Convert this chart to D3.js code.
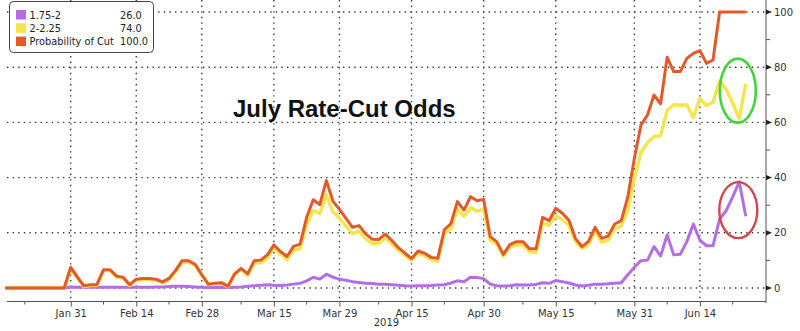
<!DOCTYPE html>
<html>
<head>
<meta charset="utf-8">
<script src="https://cdn.jsdelivr.net/npm/d3@7"></script>
<style>
  html, body { margin: 0; padding: 0; background: #fff; }
  svg { display: block; }
</style>
</head>
<body>
<svg id="chart" width="800" height="331"></svg>
<script>
// Trading days from 2019-01-17 to 2019-06-25 (weekdays)
const startDay = "2019-01-17";
const endDay = "2019-06-25";

// Fed funds target range odds for the July meeting, % per trading day
const range175to2 = [
  0, 0, 0, 0, 0, 0, 0, 0, 0, 0,
  0.4, 0.3, 0.3, 0.3, 0.3, 0.3, 0.3, 0.3, 0.3, 0.3,
  0.3, 0.3, 0.3, 0.4, 0.4, 0.5, 0.6, 0.6, 0.5, 0.4,
  0.3, 0.2, 0.2, 0.2, 0.2, 0.3, 0.4, 0.6, 0.8, 1.0,
  1.2, 1.0, 0.9, 1.1, 1.4, 1.7, 2.6, 3.9, 3.2, 5.0,
  3.9, 3.2, 2.8, 2.3, 2.0, 1.7, 1.6, 1.4, 1.4, 1.2,
  1.0, 0.8, 0.7, 0.8, 0.8, 0.9, 1.1, 1.2, 1.8, 2.6,
  2.3, 3.9, 3.8, 3.4, 1.4, 0.8, 0.7, 0.8, 1.2, 1.1,
  1.1, 1.3, 1.9, 1.7, 2.7, 2.3, 1.8, 1.1, 0.7, 1.0,
  1.4, 1.4, 1.5, 1.7, 1.9, 4.8, 7.5, 9.9, 10.1, 15.0,
  11.6, 19.2, 12.0, 12.2, 16.8, 23.2, 17.3, 15.3, 15.3, 25.0,
  28.0, 33.0, 38.5, 26.0
];
const range2to225 = [
  0, 0, 0, 0, 0, 0, 0, 0, 0, 0,
  7.1, 3.7, 0.5, 0.9, 1.0, 6.3, 6.3, 4.0, 3.6, 0.9,
  2.9, 3.1, 3.1, 2.8, 1.8, 3.0, 5.8, 9.3, 9.4, 8.1,
  4.5, 1.2, 1.5, 1.7, 0.5, 4.8, 6.7, 4.5, 9.1, 9.1,
  10.8, 14.6, 12.3, 10.3, 13.7, 14.2, 23.0, 28.1, 27.0, 33.9,
  27.6, 25.3, 22.4, 19.7, 20.6, 17.9, 16.1, 16.2, 18.1, 16.0,
  13.6, 11.8, 10.0, 12.6, 11.8, 10.2, 9.7, 19.9, 21.5, 28.7,
  25.9, 29.2, 27.8, 28.7, 17.2, 16.0, 11.5, 14.9, 15.6, 15.7,
  13.1, 12.9, 23.7, 22.7, 26.2, 24.8, 22.8, 16.9, 14.3, 15.9,
  20.6, 16.6, 17.3, 21.5, 22.5, 28.2, 39.5, 49.1, 52.6, 54.9,
  55.1, 64.4, 66.4, 66.2, 66.4, 61.8, 68.7, 66.1, 67.3, 75.0,
  72.0, 67.0, 61.5, 74.0
];
const probabilityOfCut = [
  0, 0, 0, 0, 0, 0, 0, 0, 0, 0,
  7.5, 4.0, 0.8, 1.2, 1.3, 6.6, 6.6, 4.3, 3.9, 1.2,
  3.2, 3.4, 3.4, 3.2, 2.2, 3.5, 6.4, 9.9, 9.9, 8.5,
  4.8, 1.4, 1.7, 1.9, 0.7, 5.1, 7.1, 5.1, 9.9, 10.1,
  12.0, 15.6, 13.2, 11.4, 15.1, 15.9, 25.6, 32.0, 30.2, 38.9,
  31.5, 28.5, 25.2, 22.0, 22.6, 19.6, 17.7, 17.6, 19.5, 17.2,
  14.6, 12.6, 10.7, 13.4, 12.6, 11.1, 10.8, 21.1, 23.3, 31.3,
  28.2, 33.1, 31.6, 32.1, 18.6, 16.8, 12.2, 15.7, 16.8, 16.8,
  14.2, 14.2, 25.6, 24.4, 28.9, 27.1, 24.6, 18.0, 15.0, 16.9,
  22.0, 18.0, 18.8, 23.2, 24.4, 33.0, 47.0, 59.0, 62.7, 69.9,
  66.7, 83.6, 78.4, 78.4, 83.2, 85.0, 86.0, 81.4, 82.6, 100,
  100, 100, 100, 100
];

const seriesNames = ["1.75-2", "2-2.25", "Probability of Cut"];
const seriesColors = ["#b36ee3", "#f3e64a", "#e3592b"];

const majorTickDays = ["2019-01-31", "2019-02-14", "2019-02-28", "2019-03-15", "2019-03-29",
                       "2019-04-15", "2019-04-30", "2019-05-15", "2019-05-31", "2019-06-14"];
const minorTickDays = ["2019-01-22", "2019-02-07", "2019-02-21", "2019-03-08", "2019-03-22",
                       "2019-04-08", "2019-04-22", "2019-05-08", "2019-05-23", "2019-06-07", "2019-06-21"];
const yMajorTicks = [0, 20, 40, 60, 80, 100];
const yMinorTicks = [10, 30, 50, 70, 90];
const yearLabel = "2019";
const titleText = "July Rate-Cut Odds";

const parse = d3.utcParse("%Y-%m-%d");
const fmtKey = d3.utcFormat("%Y-%m-%d");
const days = d3.utcDay.range(parse(startDay), d3.utcDay.offset(parse(endDay), 1))
  .filter(d => d.getUTCDay() !== 0 && d.getUTCDay() !== 6)
  .map(fmtKey);

const svg = d3.select("#chart");
const plot = { left: 7, right: 766, top: 0, bottom: 301.5 };

const x = d3.scalePoint().domain(days).range([5.2, 745.8]);
const y = d3.scaleLinear().domain([0, 100]).range([288, 12]);

const font = "'DejaVu Sans', Verdana, sans-serif";

// dotted grid
const grid = svg.append("g").attr("stroke", "#3a3a3a").attr("stroke-width", 1.4)
  .attr("stroke-dasharray", "1.4,4.2");
grid.selectAll("line.h").data(yMajorTicks).join("line")
  .attr("x1", plot.left).attr("x2", plot.right)
  .attr("y1", d => y(d)).attr("y2", d => y(d));
grid.selectAll("line.v").data(majorTickDays).join("line")
  .attr("x1", d => x(d)).attr("x2", d => x(d))
  .attr("y1", 0).attr("y2", plot.bottom);

// series lines: drawn so the total sits on top
const line = d3.line().x((d, i) => x(days[i])).y(d => y(d)).curve(d3.curveLinear);
const series = [range175to2, range2to225, probabilityOfCut];
series.forEach((s, k) => {
  svg.append("path").datum(s)
    .attr("fill", "none")
    .attr("stroke", seriesColors[k])
    .attr("stroke-width", k === 1 ? 3.4 : 3)
    .attr("stroke-linejoin", "round")
    .attr("stroke-linecap", "butt")
    .attr("d", line);
});

// bottom axis
const xAxis = d3.axisBottom(x).tickValues(majorTickDays)
  .tickFormat(d => d3.utcFormat("%b %d")(parse(d))).tickSize(5).tickPadding(3);
const gx = svg.append("g").attr("transform", `translate(0,${plot.bottom})`).call(xAxis);
gx.select(".domain").remove();
gx.append("line").attr("x1", plot.left).attr("x2", plot.right).attr("stroke", "#555").attr("stroke-width", 1);
gx.selectAll(".tick line").attr("stroke", "#555");
gx.selectAll(".tick text").attr("fill", "#333").style("font-family", font).style("font-size", "10px");
gx.selectAll("line.minor").data(minorTickDays).join("line").attr("class", "minor")
  .attr("x1", d => x(d)).attr("x2", d => x(d)).attr("y1", 0).attr("y2", 3)
  .attr("stroke", "#555");

svg.append("text").attr("x", x("2019-03-29") + 47).attr("y", 326)
  .attr("text-anchor", "middle").attr("fill", "#333")
  .style("font-family", font).style("font-size", "10px").text(yearLabel);

// right axis
const gy = svg.append("g");
gy.append("line").attr("x1", plot.right).attr("x2", plot.right).attr("y1", 0).attr("y2", 303)
  .attr("stroke", "#555").attr("stroke-width", 1);
gy.selectAll("path.arrow").data(yMajorTicks).join("path").attr("class", "arrow")
  .attr("d", d => `M${plot.right},${y(d) - 2.6}L${plot.right + 6},${y(d)}L${plot.right},${y(d) + 2.6}Z`)
  .attr("fill", "#222");
gy.selectAll("line.minor").data(yMinorTicks).join("line").attr("class", "minor")
  .attr("x1", plot.right).attr("x2", plot.right + 4)
  .attr("y1", d => y(d)).attr("y2", d => y(d)).attr("stroke", "#555");
gy.selectAll("text").data(yMajorTicks).join("text")
  .attr("x", plot.right + 8).attr("y", d => y(d)).attr("dy", "0.35em")
  .attr("fill", "#333").style("font-family", font).style("font-size", "10px")
  .text(d => d);

// title
svg.append("text").attr("x", 233).attr("y", 117)
  .style("font-family", "'Liberation Sans', Arial, sans-serif")
  .style("font-weight", "bold").style("font-size", "24px")
  .attr("fill", "#111").text(titleText);

// highlight ellipses around the latest moves
const lastDay = days[days.length - 1];
svg.append("ellipse")
  .attr("cx", x(lastDay) - 8).attr("cy", y(71.5))
  .attr("rx", 18).attr("ry", 32)
  .attr("fill", "none").attr("stroke", "#3fd636").attr("stroke-width", 2.6);
svg.append("ellipse")
  .attr("cx", x(lastDay) - 7.5).attr("cy", y(28.2))
  .attr("rx", 19).attr("ry", 28)
  .attr("fill", "none").attr("stroke", "#d2474f").attr("stroke-width", 2.4);

// legend
const lg = svg.append("g");
lg.append("rect").attr("x", 9.5).attr("y", 1.5).attr("width", 144).attr("height", 51)
  .attr("rx", 4).attr("fill", "#fff").attr("stroke", "#444").attr("stroke-width", 1);
const lastVals = series.map(s => s[s.length - 1]);
const rows = lg.selectAll("g.row").data(seriesNames).join("g").attr("class", "row")
  .attr("transform", (d, i) => `translate(0,${15 + i * 13.3})`);
rows.append("rect").attr("x", 16).attr("y", -5).attr("width", 10).attr("height", 9.5)
  .attr("fill", (d, i) => seriesColors[i]);
rows.append("text").attr("x", 29.5).attr("y", 0).attr("dy", "0.36em")
  .attr("fill", "#222").style("font-family", font).style("font-size", "9.8px")
  .text(d => d);
rows.append("text").attr("x", 120).attr("y", 0).attr("dy", "0.36em")
  .attr("fill", "#222").style("font-family", font).style("font-size", "9.8px")
  .text((d, i) => lastVals[i].toFixed(1));
</script>
</body>
</html>
